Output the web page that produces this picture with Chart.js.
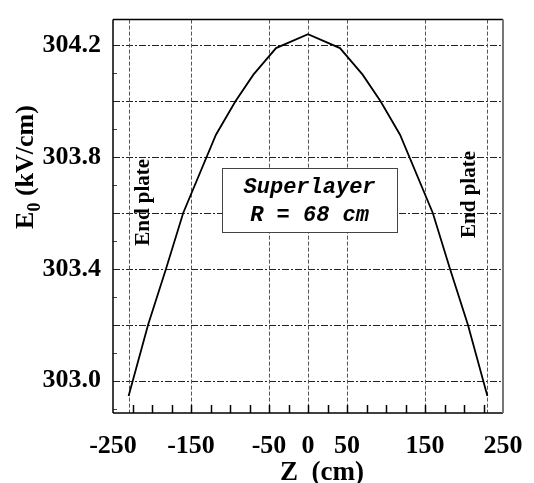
<!DOCTYPE html>
<html lang="en">
<head>
<meta charset="UTF-8">
<title>E0 along Z</title>
<script src="https://cdn.jsdelivr.net/npm/chart.js"></script>
<style>
  html, body { margin: 0; padding: 0; background: #fff; }
  #wrap { width: 534px; height: 483px; }
</style>
</head>
<body>
<div id="wrap"><canvas id="chart" width="534" height="483"></canvas></div>
<script>
// data
const zValues  = [-230, -205, -182, -160, -118, -93, -70, -41, 0, 41, 70, 93, 118, 160, 182, 205, 230];
const e0Values = [302.945, 303.20, 303.40, 303.60, 303.88, 304.00, 304.095, 304.19, 304.24,
                  304.19, 304.095, 304.00, 303.88, 303.60, 303.40, 303.20, 302.945];

const xTickLabels = [-250, -150, -50, 0, 50, 150, 250];
const yTickLabels = [303.0, 303.4, 303.8, 304.2];
const xGridLines  = [-230, -150, -50, 0, 50, 150, 230];
const yGridLines  = [303.0, 303.2, 303.4, 303.6, 303.8, 304.0, 304.2];
const xMinorTicks = [-225, -200, -175, -150, -125, -100, -75, -50, -25, 0, 25, 50, 75, 100, 125, 150, 175, 200, 225];
const yMinorTicks = [302.9, 303.1, 303.3, 303.5, 303.7, 303.9, 304.1];
const endPlates   = [-230, 230];

const serif = "'Liberation Serif', 'Times New Roman', serif";
const mono  = "'Liberation Mono', 'Courier New', monospace";

function seg(ctx, x1, y1, x2, y2) {
    ctx.beginPath();
    ctx.moveTo(x1, y1);
    ctx.lineTo(x2, y2);
    ctx.stroke();
}

const decor = {
    id: 'decor',
    beforeDatasetsDraw(chart) {
        const { ctx, chartArea: a, scales: { x, y } } = chart;
        ctx.save();
        ctx.lineWidth = 1;

        // horizontal dash-dot grid
        ctx.strokeStyle = '#222';
        ctx.setLineDash([7, 2, 2, 2]);
        yGridLines.forEach(v => {
            const py = Math.round(y.getPixelForValue(v)) + 0.5;
            seg(ctx, a.left, py, a.right, py);
        });

        // vertical dashed grid (incl. end plates)
        ctx.strokeStyle = '#555';
        ctx.setLineDash([4, 2]);
        xGridLines.forEach(v => {
            const px = Math.round(x.getPixelForValue(v)) + 0.5;
            seg(ctx, px, a.top, px, a.bottom);
        });
        ctx.setLineDash([]);

        // tick marks
        ctx.strokeStyle = '#000';
        ctx.lineWidth = 1.5;
        xMinorTicks.forEach(v => {
            const px = Math.round(x.getPixelForValue(v)) + 0.5;
            seg(ctx, px, a.bottom, px, a.bottom - 8);
        });
        ctx.strokeStyle = '#444';
        ctx.lineWidth = 1;
        yMinorTicks.forEach(v => {
            const py = Math.round(y.getPixelForValue(v)) + 0.5;
            seg(ctx, a.left, py, a.left + 4, py);
        });
        ctx.restore();
    },
    afterDatasetsDraw(chart) {
        const { ctx, chartArea: a, scales: { x, y } } = chart;
        ctx.save();

        // frame
        ctx.lineWidth = 1.5;
        ctx.strokeStyle = '#000';
        seg(ctx, a.left, a.top, a.right, a.top);
        seg(ctx, a.left, a.top, a.left, a.bottom);
        seg(ctx, a.left, a.bottom, a.right, a.bottom);
        ctx.strokeStyle = '#777';
        ctx.lineWidth = 2;
        seg(ctx, a.right, a.top, a.right, a.bottom);

        // annotation box
        const cx = x.getPixelForValue(2);
        const cy = y.getPixelForValue(303.645);
        const bw = 175, bh = 64;
        ctx.fillStyle = '#fff';
        ctx.fillRect(cx - bw / 2, cy - bh / 2, bw, bh);
        ctx.strokeStyle = '#444';
        ctx.lineWidth = 1;
        ctx.strokeRect(Math.round(cx - bw / 2) + 0.5, Math.round(cy - bh / 2) + 0.5, bw, bh);
        ctx.fillStyle = '#000';
        ctx.font = "italic bold 22px " + mono;
        ctx.textAlign = 'center';
        ctx.textBaseline = 'alphabetic';
        ctx.fillText('Superlayer', cx, cy - 7);
        ctx.fillText('R = 68 cm', cx, cy + 21);

        // end plate labels
        ctx.font = "bold 21px " + serif;
        ctx.textBaseline = 'middle';
        const lp = [x.getPixelForValue(endPlates[0]) + 15, y.getPixelForValue(303.638)];
        const rp = [x.getPixelForValue(endPlates[1]) - 18, y.getPixelForValue(303.666)];
        [lp, rp].forEach(p => {
            ctx.save();
            ctx.translate(p[0], p[1]);
            ctx.rotate(-Math.PI / 2);
            ctx.fillText('End plate', 0, 0);
            ctx.restore();
        });

        // y axis title: E0 (kV/cm)
        ctx.save();
        ctx.translate(33, 167);
        ctx.rotate(-Math.PI / 2);
        ctx.textAlign = 'left';
        ctx.textBaseline = 'alphabetic';
        const big = "bold 26px " + serif, small = "bold 18px " + serif;
        ctx.font = big;
        const wE = ctx.measureText('E').width;
        const wRest = ctx.measureText(' (kV/cm)').width;
        ctx.font = small;
        const w0 = ctx.measureText('0').width;
        let sx = -(wE + w0 + wRest) / 2;
        ctx.font = big;
        ctx.fillText('E', sx, 0);
        ctx.font = small;
        ctx.fillText('0', sx + wE, 7);
        ctx.font = big;
        ctx.fillText(' (kV/cm)', sx + wE + w0, 0);
        ctx.restore();

        // x axis title
        ctx.font = "bold 27px " + serif;
        ctx.textAlign = 'center';
        ctx.textBaseline = 'alphabetic';
        ctx.fillText('Z  (cm)', 322, 480);

        ctx.restore();
    }
};

new Chart(document.getElementById('chart'), {
    type: 'scatter',
    data: {
        datasets: [{
            data: zValues.map((z, i) => ({ x: z, y: e0Values[i] })),
            showLine: true,
            borderColor: '#000',
            borderWidth: 1.8,
            pointRadius: 0,
            tension: 0
        }]
    },
    options: {
        responsive: false,
        animation: false,
        devicePixelRatio: 1,
        layout: { padding: { top: 9, right: 31, left: 0, bottom: 0 } },
        plugins: {
            legend: { display: false },
            tooltip: { enabled: false }
        },
        scales: {
            x: {
                type: 'linear',
                min: -250,
                max: 250,
                afterBuildTicks: s => { s.ticks = xTickLabels.map(v => ({ value: v })); },
                afterFit: s => { s.height = 70; },
                grid: { display: false },
                border: { display: false },
                ticks: {
                    color: '#000',
                    font: { family: serif, size: 26, weight: 'bold' },
                    padding: 10,
                    maxRotation: 0,
                    autoSkip: false
                }
            },
            y: {
                type: 'linear',
                min: 302.884,
                max: 304.292,
                afterBuildTicks: s => { s.ticks = yTickLabels.map(v => ({ value: v })); },
                afterFit: s => { s.width = 113; },
                grid: { display: false },
                border: { display: false },
                ticks: {
                    color: '#000',
                    font: { family: serif, size: 26, weight: 'bold' },
                    padding: 4,
                    callback: v => v.toFixed(1)
                }
            }
        }
    },
    plugins: [decor]
});
</script>
</body>
</html>
